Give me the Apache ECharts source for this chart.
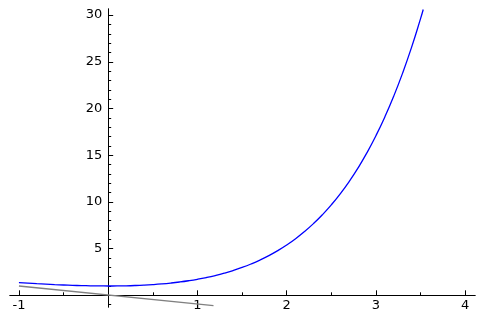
<!DOCTYPE html>
<html>
<head>
<meta charset="utf-8">
<script src="https://cdn.jsdelivr.net/npm/echarts@6/dist/echarts.min.js"></script>
<style>html,body{margin:0;padding:0;background:#fff}#c{width:484px;height:321px}</style>
</head>
<body>
<div id="c"></div>
<script>
// Blue curve
const curveX = [-1.0,-0.9,-0.8,-0.7,-0.6,-0.5,-0.4,-0.3,-0.2,-0.1,0.0,0.1,0.2,0.3,0.4,0.5,0.6,0.7,0.8,0.9,1.0,1.1,1.2,1.3,1.4,1.5,1.6,1.7,1.8,1.9,2.0,2.1,2.2,2.3,2.4,2.5,2.6,2.7,2.8,2.9,3.0,3.1,3.2,3.3,3.4,3.5,3.53];
const curveY = [1.368,1.307,1.249,1.197,1.149,1.107,1.070,1.041,1.019,1.005,1.000,1.005,1.021,1.050,1.092,1.149,1.222,1.314,1.426,1.560,1.718,1.904,2.120,2.369,2.655,2.982,3.353,3.774,4.250,4.786,5.389,6.066,6.825,7.674,8.623,9.683,10.864,12.180,13.645,15.274,17.086,19.098,21.333,23.813,26.564,29.615,30.6];
// Grey line
const lineX = [-1.0, 1.18];
const lineY = [1.0, -1.1];
// Ticks
const xMajor = [-1, 1, 2, 3, 4];
const xMinor = [-0.5, 0.5, 1.5, 2.5, 3.5];
const yMajor = [5, 10, 15, 20, 25, 30];
const yMinor = [-1,1,2,3,4,6,7,8,9,11,12,13,14,16,17,18,19,21,22,23,24,26,27,28,29];

const curve = curveX.map((x, i) => [x, curveY[i]]);
const line = lineX.map((x, i) => [x, lineY[i]]);

const XMIN = -1.1, XMAX = 4.11, YMIN = -1.25, YMAX = 30.65;
const G = { left: 10, right: 9, top: 9, bottom: 14 };
const W = 484 - G.left - G.right, H = 321 - G.top - G.bottom;
const xZeroOff = (0 - XMIN) / (XMAX - XMIN) * W;   // distance from grid left to x=0
const yZeroOff = (0 - YMIN) / (YMAX - YMIN) * H;   // distance from grid bottom to y=0

const lab = { color: '#000', fontSize: 13, fontFamily: 'DejaVu Sans' };
const axLine = { show: true, onZero: true, onZeroAxisIndex: 0, lineStyle: { color: '#000', width: 1 } };
const noLine = { show: false, onZero: false };

const chart = echarts.init(document.getElementById('c'), null, { renderer: 'canvas' });
chart.setOption({
  animation: false,
  backgroundColor: '#fff',
  grid: Object.assign({ containLabel: false, outerBoundsMode: 'none' }, G),
  xAxis: [
    { type: 'value', min: XMIN, max: XMAX, position: 'bottom', axisLine: axLine,
      axisTick: { show: true, inside: true, length: 5, customValues: xMajor, lineStyle: { color: '#000' } },
      axisLabel: { show: false }, splitLine: { show: false } },
    { type: 'value', min: XMIN, max: XMAX, position: 'bottom', axisLine: axLine,
      axisTick: { show: true, inside: true, length: 3, customValues: xMinor, lineStyle: { color: '#000' } },
      axisLabel: { show: false }, splitLine: { show: false } },
    { type: 'value', min: XMIN, max: XMAX, position: 'bottom', offset: -yZeroOff, axisLine: noLine,
      axisTick: { show: false },
      axisLabel: Object.assign({ show: true, customValues: xMajor, margin: 4 }, lab),
      splitLine: { show: false } }
  ],
  yAxis: [
    { type: 'value', min: YMIN, max: YMAX, position: 'left', axisLine: axLine,
      axisTick: { show: true, inside: true, length: 5, customValues: yMajor, lineStyle: { color: '#000' } },
      axisLabel: { show: false }, splitLine: { show: false } },
    { type: 'value', min: YMIN, max: YMAX, position: 'left', axisLine: axLine,
      axisTick: { show: true, inside: true, length: 3, customValues: yMinor, lineStyle: { color: '#000' } },
      axisLabel: { show: false }, splitLine: { show: false } },
    { type: 'value', min: YMIN, max: YMAX, position: 'left', offset: -xZeroOff, axisLine: noLine,
      axisTick: { show: false },
      axisLabel: Object.assign({ show: true, customValues: yMajor, margin: 6 }, lab),
      splitLine: { show: false } }
  ],
  series: [
    { type: 'line', xAxisIndex: 0, yAxisIndex: 0, data: line, showSymbol: false, symbol: 'none',
      lineStyle: { color: '#808080', width: 1.3 }, z: 2 },
    { type: 'line', xAxisIndex: 0, yAxisIndex: 0, data: curve, showSymbol: false, symbol: 'none', smooth: true,
      lineStyle: { color: '#0000ff', width: 1.3 }, z: 3 }
  ]
});
</script>
</body>
</html>
